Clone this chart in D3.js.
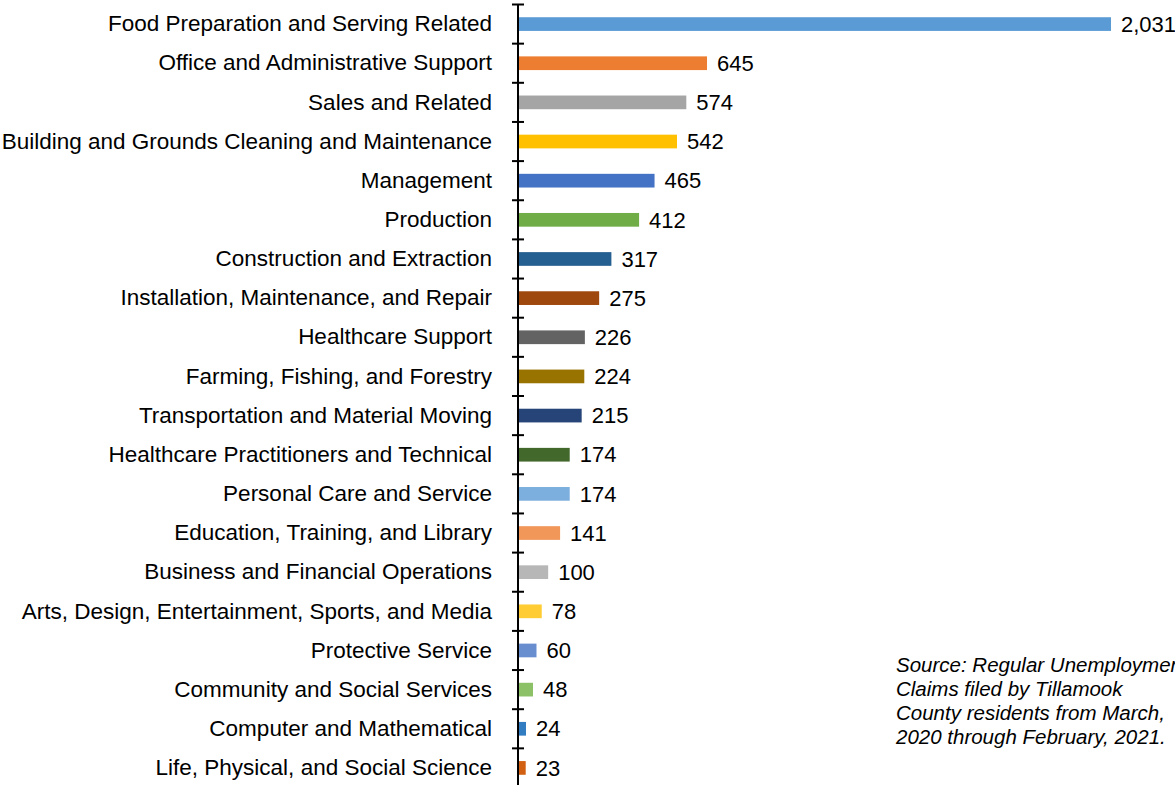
<!DOCTYPE html>
<html>
<head>
<meta charset="utf-8">
<script src="https://cdn.jsdelivr.net/npm/d3@7"></script>
<style>
  body { margin: 0; background: #fff; }
  svg { display: block; font-family: Arial, "Liberation Sans", sans-serif; }
</style>
</head>
<body>
<svg id="chart" width="1175" height="785"></svg>
<script>
const categories = [
  'Food Preparation and Serving Related',
  'Office and Administrative Support',
  'Sales and Related',
  'Building and Grounds Cleaning and Maintenance',
  'Management',
  'Production',
  'Construction and Extraction',
  'Installation, Maintenance, and Repair',
  'Healthcare Support',
  'Farming, Fishing, and Forestry',
  'Transportation and Material Moving',
  'Healthcare Practitioners and Technical',
  'Personal Care and Service',
  'Education, Training, and Library',
  'Business and Financial Operations',
  'Arts, Design, Entertainment, Sports, and Media',
  'Protective Service',
  'Community and Social Services',
  'Computer and Mathematical',
  'Life, Physical, and Social Science'
]
const claims = [2031, 645, 574, 542, 465, 412, 317, 275, 226, 224, 215, 174, 174, 141, 100, 78, 60, 48, 24, 23]
const barColors = [
  '#5b9bd5', '#ed7d31', '#a5a5a5', '#ffc000', '#4472c4', '#70ad47', '#255e91',
  '#9e480e', '#636363', '#997300', '#264478', '#43682b', '#7cafdd', '#f1975a',
  '#b7b7b7', '#ffcd33', '#698ed0', '#8cc168', '#327dc2', '#d26012'
]
const sourceLines = [
  'Source: Regular Unemployment',
  'Claims filed by Tillamook',
  'County residents from March,',
  '2020 through February, 2021.'
]

const svg = d3.select('#chart')
const axisX = 518

const x = d3.scaleLinear()
  .domain([0, 2031])
  .range([axisX + 1, 1111])

const y = d3.scaleBand()
  .domain(categories)
  .range([4.5, 787.5])
  .paddingInner(0.65)
  .paddingOuter(0.325)

const step = y.step()

// bars
svg.append('g').attr('class', 'bars')
  .selectAll('rect')
  .data(categories)
  .enter()
  .append('rect')
    .attr('x', x(0))
    .attr('y', function (d) { return y(d) })
    .attr('width', function (d, i) { return x(claims[i]) - x(0) })
    .attr('height', y.bandwidth())
    .attr('fill', function (d, i) { return barColors[i] })

// value labels
svg.append('g').attr('class', 'values')
  .selectAll('text')
  .data(categories)
  .enter()
  .append('text')
    .attr('x', function (d, i) { return x(claims[i]) + 10 })
    .attr('y', function (d) { return y(d) + y.bandwidth() / 2 })
    .attr('dy', '0.35em')
    .attr('font-size', 22)
    .attr('fill', '#000')
    .text(function (d, i) { return d3.format(',')(claims[i]) })

// category axis
const axis = svg.append('g')
  .attr('class', 'axis')
  .attr('transform', 'translate(' + axisX + ',0)')
  .call(d3.axisLeft(y).tickSize(0).tickPadding(26))

axis.select('.domain').remove()
axis.selectAll('text')
  .attr('font-size', 22.5)
  .attr('font-family', 'Arial, "Liberation Sans", sans-serif')
  .attr('fill', '#000')

axis.append('line')
  .attr('x1', 0).attr('x2', 0)
  .attr('y1', y.range()[0]).attr('y2', y.range()[1])
  .attr('stroke', '#000')
  .attr('stroke-width', 2)

const boundaries = d3.range(categories.length + 1).map(function (i) {
  return y.range()[0] + i * step
})
axis.selectAll('line.tick-mark')
  .data(boundaries)
  .enter()
  .append('line')
    .attr('class', 'tick-mark')
    .attr('x1', -6).attr('x2', 6)
    .attr('y1', function (d) { return d }).attr('y2', function (d) { return d })
    .attr('stroke', '#000')
    .attr('stroke-width', 2)

// source note
svg.append('text')
  .attr('x', 896)
  .attr('y', 672)
  .attr('font-size', 20.5)
  .attr('font-style', 'italic')
  .attr('fill', '#000')
  .selectAll('tspan')
  .data(sourceLines)
  .enter()
  .append('tspan')
    .attr('x', 896)
    .attr('dy', function (d, i) { return i === 0 ? 0 : 24 })
    .text(function (d) { return d })
</script>
</body>
</html>
